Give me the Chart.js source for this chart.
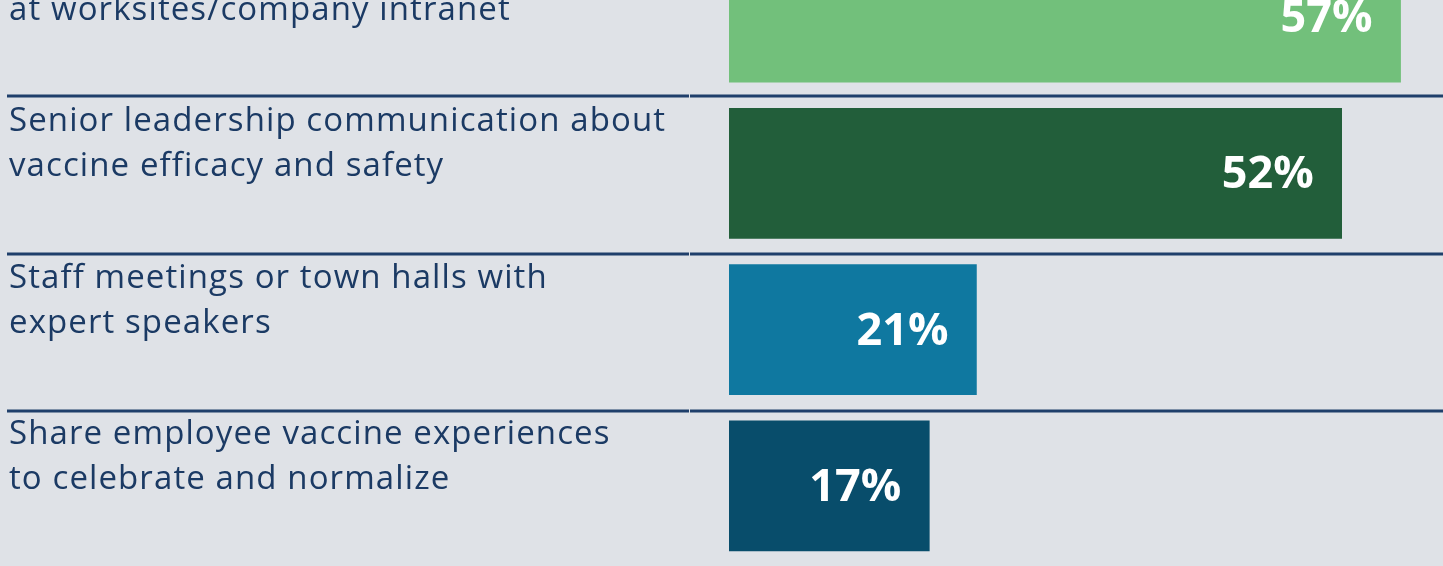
<!DOCTYPE html>
<html>
<head>
<meta charset="utf-8">
<script src="https://cdn.jsdelivr.net/npm/chart.js@4/dist/chart.umd.min.js"></script>
<style>
  html, body { margin: 0; padding: 0; background: #dfe2e7; overflow: hidden; }
  #wrap { position: absolute; left: 0; top: -61px; width: 1443px; height: 625px; }
</style>
</head>
<body>
<div id="wrap"><canvas id="c" width="1443" height="625"></canvas></div>
<script>
const categories = [
  ["", "at worksites/company intranet"],
  ["Senior leadership communication about", "vaccine efficacy and safety"],
  ["Staff meetings or town halls with", "expert speakers"],
  ["Share employee vaccine experiences", "to celebrate and normalize"]
];
const values = [57, 52, 21, 17];
const valueLabels = ["57%", "52%", "21%", "17%"];
const barColors = ["#72c07b", "#225e3a", "#0f78a0", "#084d6b"];

const TEXT = "#1b3a64";
const LINE = "#1f3f6b";

const decor = {
  id: "decor",
  afterDatasetsDraw(chart) {
    const ctx = chart.ctx;
    const meta = chart.getDatasetMeta(0);
    ctx.save();
    // separators
    for (let i = 0; i < values.length - 1; i++) {
      const a = meta.data[i], b = meta.data[i + 1];
      const mid = Math.round(((a.y + a.height / 2) + (b.y - b.height / 2)) / 2) + 1 + i;
      ctx.fillStyle = LINE;
      ctx.fillRect(7, mid - 1.5, 682, 3);
      ctx.fillRect(690, mid - 1.5, 1443 - 690, 3);
    }
    // category labels
    ctx.fillStyle = TEXT;
    ctx.font = "33px 'Open Sans'";
    if ("letterSpacing" in ctx) ctx.letterSpacing = "1.1px";
    ctx.textAlign = "left";
    ctx.textBaseline = "alphabetic";
    categories.forEach((lines, i) => {
      const bar = meta.data[i];
      const top = bar.y - bar.height / 2;
      lines.forEach((t, j) => ctx.fillText(t, 9, top + 23 + j * 45));
    });
    if ("letterSpacing" in ctx) ctx.letterSpacing = "0px";
    // value labels
    ctx.fillStyle = "#ffffff";
    ctx.font = "bold 45px 'Open Sans'";
    ctx.textAlign = "right";
    valueLabels.forEach((t, i) => {
      const bar = meta.data[i];
      ctx.fillText(t, bar.x - 28, bar.y + 15);
    });
    ctx.restore();
  }
};

new Chart(document.getElementById("c"), {
  type: "bar",
  data: {
    labels: categories,
    datasets: [{
      data: values,
      backgroundColor: barColors,
      borderWidth: 0,
      barThickness: 130
    }]
  },
  options: {
    indexAxis: "y",
    responsive: false,
    animation: false,
    events: [],
    layout: { padding: { left: 729, right: 0, top: 0, bottom: 0 } },
    plugins: { legend: { display: false }, tooltip: { enabled: false } },
    scales: {
      x: { display: false, min: 0, max: 60.6 },
      y: { display: false, offset: true }
    }
  },
  plugins: [decor]
});
</script>
</body>
</html>
